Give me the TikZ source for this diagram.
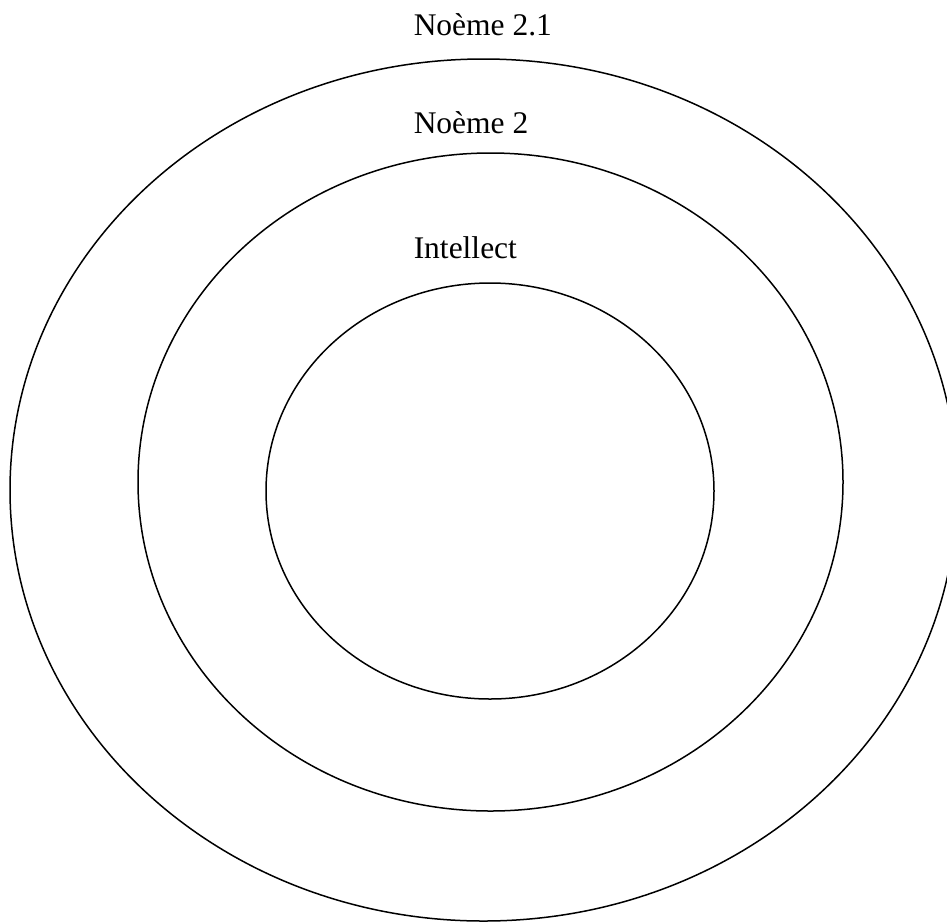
\documentclass[tikz,border=0pt]{standalone}
\usepackage{fontspec}
\setmainfont{Liberation Serif}
\usetikzlibrary{positioning}

\begin{document}
\begin{tikzpicture}[x=1pt,y=-1pt,line width=1.5pt,
  ringlabel/.style={anchor=base west,inner sep=0pt,font=\fontsize{31.5}{38}\selectfont}]
  % page
  \useasboundingbox (0,0) rectangle (947,922);

  % centres of the three rings
  \coordinate (outerc) at (483.5,490);
  \coordinate (midc)   at (490.5,482);
  \coordinate (innerc) at (490,491);

  % rings
  \draw (outerc) ellipse [x radius=473.5pt,y radius=431pt];
  \draw (midc)   ellipse [x radius=352.5pt,y radius=329pt];
  \draw (innerc) ellipse [x radius=224pt,y radius=208pt];

  % labels
  \node[ringlabel] (outerlbl) at (413,35)  {Noème 2.1};
  \node[ringlabel] (midlbl)   at (413,133) {Noème 2};
  \node[ringlabel] (innerlbl) at (413,258) {Intellect};
\end{tikzpicture}
\end{document}
